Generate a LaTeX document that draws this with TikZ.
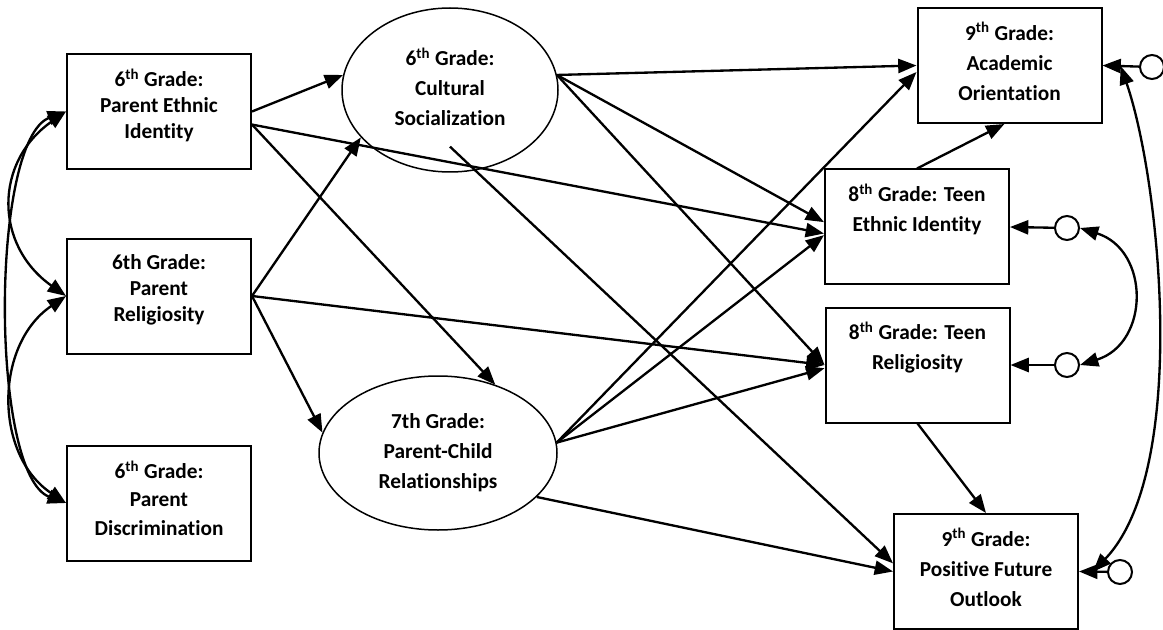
\documentclass[tikz,border=0pt]{standalone}
\usepackage{fontspec}
\setmainfont{Carlito}[Ligatures=NoCommon]
\usepackage{tikz}
\usetikzlibrary{shapes,arrows.meta,calc}
\tikzset{
  obs/.style  = {draw, rectangle, line width=1.2pt, minimum width=110.4pt,
                 minimum height=69pt, align=center, text depth=5pt,
                 font=\bfseries\fontsize{12.8}{18}\selectfont},
  lat/.style  = {draw, ellipse, line width=0.9pt, inner sep=0pt, align=center,
                 font=\bfseries\fontsize{12.8}{18}\selectfont},
  err/.style  = {draw, circle, line width=1.2pt, minimum size=14.4pt, inner sep=0pt},
  eff/.style  = {-{Triangle[length=11pt,width=8.5pt]}, line width=1.4pt},
  cov/.style  = {{Triangle[length=11pt,width=8.5pt]}-{Triangle[length=11pt,width=8.5pt]},
                 line width=1.4pt}
}

\begin{document}
\begin{tikzpicture}[x=0.6pt,y=-0.6pt]
	\useasboundingbox (0,0) rectangle (1163,630);
	% parent variables
	\node[obs,text depth=9pt,font=\bfseries\fontsize{12.8}{15.6}\selectfont] (PEI) at (159,111.5) {6\textsuperscript{th} Grade:\\Parent Ethnic\\Identity};
	\node[obs,text depth=9pt,font=\bfseries\fontsize{12.8}{15.6}\selectfont] (PR) at (159,296) {6th Grade:\\Parent\\Religiosity};
	\node[obs,text depth=6pt,font=\bfseries\fontsize{12.8}{17}\selectfont] (PD) at (159,503) {6\textsuperscript{th} Grade:\\Parent\\Discrimination};
	\node[lat,text depth=4pt,minimum width=129.6pt,minimum height=98.4pt] (CS) at (450,90) {6\textsuperscript{th} Grade:\\Cultural\\Socialization};
	\node[lat,minimum width=142.8pt,minimum height=92.4pt] (PCR) at (438,453) {7th Grade:\\Parent-Child\\Relationships};
	% teen outcomes
	\node[obs] (AO) at (1009.5,65.5) {9\textsuperscript{th} Grade:\\Academic\\Orientation};
	\node[obs] (TEI) at (917,227) {8\textsuperscript{th} Grade: Teen\\Ethnic Identity\\\mbox{}};
	\node[obs] (TR) at (917.5,365) {8\textsuperscript{th} Grade: Teen\\Religiosity\\\mbox{}};
	\node[obs] (PFO) at (986,571.5) {9\textsuperscript{th} Grade:\\Positive Future\\Outlook};
	% residuals
	\node[err] (eAO) at (1152,67) {};
	\node[err] (eTEI) at (1067,228) {};
	\node[err] (eTR) at (1067,365) {};
	\node[err] (ePFO) at (1120,572) {};
	\coordinate (aoc) at ($(AO.east)!0.5!(eAO.west)$);
	\coordinate (pfoc) at ($(PFO.east)!0.5!(ePFO.west)$);

	\draw[eff] (PEI.east) -- (CS.172);
	\draw[eff] (PEI.-8) -- (TEI.184);
	\draw[eff] (PEI.-8) -- (PCR.50);
	\draw[eff] (PR.east) -- (CS.208);
	\draw[eff] (PR.east) -- (TR.west);
	\draw[eff] (PR.east) -- (PCR.170);
	\draw[eff] (CS.8) -- (AO.west);
	\draw[eff] (CS.8) -- (TEI.177);
	\draw[eff] (CS.8) -- (TR.west);
	\draw[eff] ([yshift=-34pt]CS.center) -- (PFO.175);
	\draw[eff] (PCR.5) -- (AO.184);
	\draw[eff] (PCR.5) -- (TEI.185);
	\draw[eff] (PCR.5) -- (TR.182);
	\draw[eff] (PCR.-24) -- (PFO.west);
	\draw[eff] (TEI.north) -- (AO.-95);
	\draw[eff] (TR.south) -- (PFO.north);

	\draw[eff] (eAO) -- (AO.east);
	\draw[eff] (eTEI) -- (TEI.east);
	\draw[eff] (eTR) -- (TR.east);
	\draw[eff] (ePFO) -- (PFO.east);

	% covariances
	\draw[cov] (PEI.west) .. controls (-6,162) and (-6,245) .. (PR.west);
	\draw[cov] (PEI.west) .. controls (-10,140) and (-10,475) .. (PD.west);
	\draw[cov] (PR.west) .. controls (-6,345) and (-6,455) .. (PD.west);
	\draw[cov] (eTEI.east) .. controls (1150,250) and (1150,343) .. (eTR.east);
	\draw[cov] (aoc) .. controls (1160,180) and (1190,470) .. (pfoc);
\end{tikzpicture}
\end{document}
